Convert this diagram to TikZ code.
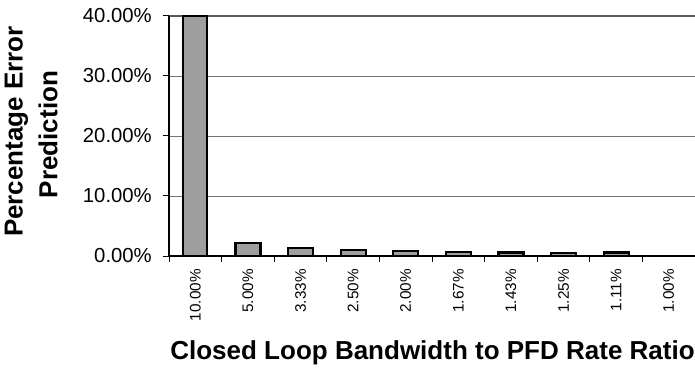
\documentclass[tikz,border=0pt]{standalone}
\usepackage{fontspec}
\setmainfont{Liberation Sans}
\begin{document}
\begin{tikzpicture}[x=1pt,y=1pt,
  bar/.style={draw=black,line width=2.2pt,fill=black!38},
  gridline/.style={draw=black!55,line width=0.9pt},
  axisline/.style={draw=black,line width=1.3pt},
  ylab/.style={anchor=east,inner sep=0pt,font=\fontsize{20.3}{20.3}\selectfont},
  xlab/.style={anchor=east,rotate=90,inner sep=0pt,font=\fontsize{15.3}{15.3}\selectfont},
  axistitle/.style={inner sep=0pt,font=\bfseries\fontsize{26}{26}\selectfont}]
\useasboundingbox (0,0) rectangle (695,367);
% plot frame: origin at 0 %, 60pt per 10 %, 52.6pt per category
\coordinate (o) at (169,111);
\coordinate (top) at (169,351);
\coordinate (xend) at (695,111);
\coordinate (topend) at (695,351);
% horizontal grid lines
\foreach \k in {1,2,3}
  \draw[gridline] (169,111+60*\k) -- (695,111+60*\k);
\draw[draw=black!65,line width=1.4pt] (top) -- (topend);
% y axis with ticks and labels
\foreach \k/\t in {0/0.00,1/10.00,2/20.00,3/30.00,4/40.00} {
  \draw[axisline,line width=1pt] (163,111+60*\k) -- (169,111+60*\k);
  \node[ylab] (ylab\k) at (152,111+60*\k) {\t\%};
}
% bars
\draw[bar] (183.3,111) rectangle (207.3,351);
\foreach \h [count=\i] in {12.8,7.8,5.8,4.8,4.1,3.5,3.1,3.6}
  \draw[bar] (169+52.6*\i+52.6/2-12.5,111) rectangle ++(25,\h);
\draw[axisline] (o) -- (top);
\draw[axisline] (o) -- (xend);
% x ticks
\foreach \i in {0,...,10}
  \draw[axisline,line width=1pt] (169+52.6*\i,111) -- (169+52.6*\i,105);
% x tick labels
\foreach \t [count=\i from 0] in {10.00,5.00,3.33,2.50,2.00,1.67,1.43,1.25,1.11,1.00}
  \node[xlab] (xlab\i) at (169+52.6*\i+26.3,98) {\t\%};
% axis titles
\node[axistitle,rotate=90] (ytitleA) at (16.5,235.5) {Percentage Error};
\node[axistitle,rotate=90] (ytitleB) at (48,232.5) {Prediction};
\node[axistitle,anchor=base] (xtitle) at (432.5,7.5) {Closed Loop Bandwidth to PFD Rate Ratio};
\end{tikzpicture}
\end{document}
